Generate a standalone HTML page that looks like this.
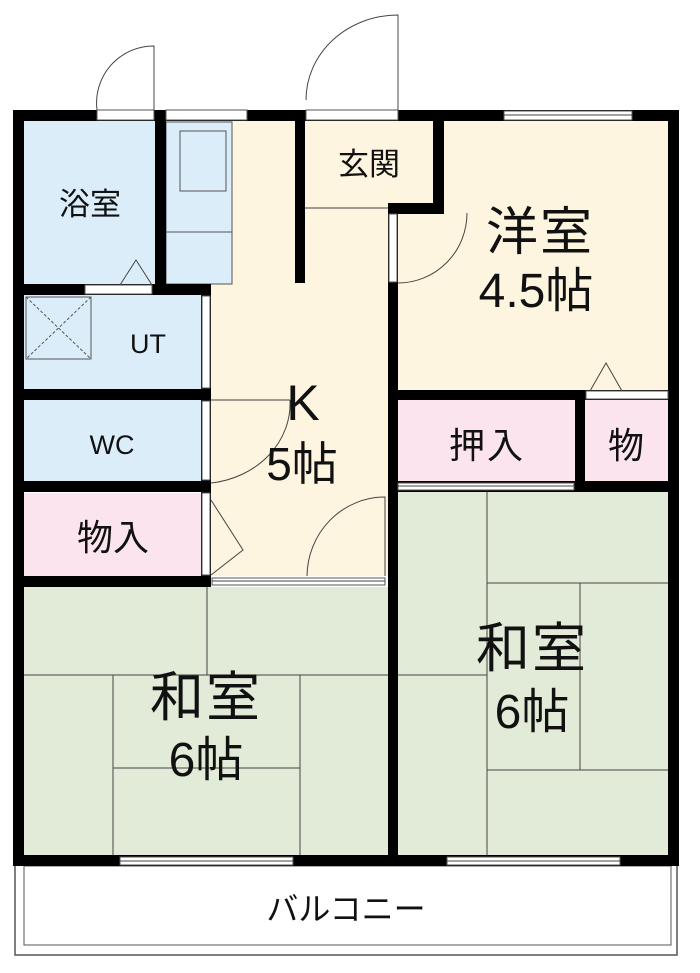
<!DOCTYPE html>
<html><head><meta charset="utf-8"><style>
html,body{margin:0;padding:0;background:#fff}
svg{display:block}
text{font-family:"Liberation Sans","Noto Sans CJK JP",sans-serif;fill:#111;text-anchor:middle}
</style></head><body>
<svg width="700" height="973" viewBox="0 0 700 973" xmlns="http://www.w3.org/2000/svg">
<!-- balcony -->
<rect x="15" y="860" width="662" height="95" fill="#fff" stroke="#555" stroke-width="1.5"/>
<rect x="24" y="866" width="647" height="79" fill="#fff" stroke="#555" stroke-width="1"/>
<!-- room fills -->
<rect x="211" y="121" width="177" height="455" fill="#fdf5e0"/>
<rect x="24" y="121" width="141" height="164" fill="#dcedfa"/>
<rect x="165" y="121" width="67" height="163" fill="#dcedfa"/>
<rect x="24" y="295" width="177" height="94" fill="#dcedfa"/>
<rect x="24" y="400" width="177" height="82" fill="#dcedfa"/>
<rect x="24" y="493" width="177" height="83" fill="#fbe4ee"/>
<rect x="305" y="121" width="130" height="87" fill="#fdf5e0"/>
<rect x="398" y="121" width="270" height="269" fill="#fdf5e0"/>
<rect x="398" y="400" width="177" height="81" fill="#fbe4ee"/>
<rect x="585" y="400" width="83" height="81" fill="#fbe4ee"/>
<rect x="24" y="587" width="364" height="268" fill="#e2ead8"/>
<rect x="398" y="492" width="270" height="363" fill="#e2ead8"/>
<!-- bath fixtures -->
<rect x="166" y="122" width="66" height="162" fill="none" stroke="#555" stroke-width="1"/>
<rect x="180" y="131" width="46" height="60" fill="none" stroke="#555" stroke-width="1"/>
<line x1="166" y1="232" x2="232" y2="232" stroke="#555"/>
<rect x="26" y="297" width="65" height="62" fill="none" stroke="#555"/>
<line x1="26" y1="297" x2="91" y2="359" stroke="#555" stroke-dasharray="3,2"/>
<line x1="91" y1="297" x2="26" y2="359" stroke="#555" stroke-dasharray="3,2"/>
<!-- tatami lines -->
<g stroke="#444" stroke-width="1" fill="none">
<line x1="207" y1="587" x2="207" y2="675"/>
<line x1="24" y1="675" x2="388" y2="675"/>
<line x1="113" y1="675" x2="113" y2="855"/>
<line x1="300" y1="675" x2="300" y2="855"/>
<line x1="113" y1="768" x2="300" y2="768"/>
<line x1="487" y1="492" x2="487" y2="855"/>
<line x1="487" y1="583" x2="668" y2="583"/>
<line x1="580" y1="583" x2="580" y2="770"/>
<line x1="487" y1="770" x2="668" y2="770"/>
<line x1="398" y1="675" x2="487" y2="675"/>
<line x1="305" y1="208" x2="388" y2="208"/>
<line x1="211" y1="400" x2="290" y2="400"/>
</g>
<!-- walls -->
<g fill="#000">
<rect x="13" y="110" width="11" height="756"/>
<rect x="668" y="110" width="11" height="756"/>
<rect x="13" y="855" width="666" height="11"/>
<rect x="13" y="110" width="666" height="11"/>
<rect x="155" y="110" width="11" height="185"/>
<rect x="24" y="284" width="186" height="11"/>
<rect x="201" y="284" width="10" height="303"/>
<rect x="24" y="389" width="187" height="11"/>
<rect x="24" y="481" width="187" height="11"/>
<rect x="24" y="576" width="187" height="11"/>
<rect x="295" y="110" width="10" height="173"/>
<rect x="433" y="110" width="11" height="104"/>
<rect x="388" y="203" width="56" height="11"/>
<rect x="388" y="203" width="10" height="663"/>
<rect x="388" y="390" width="290" height="10"/>
<rect x="575" y="390" width="10" height="102"/>
<rect x="388" y="481" width="290" height="11"/>
</g>
<!-- openings (white) -->
<g fill="#fff" stroke="#555" stroke-width="1">
<rect x="97" y="110" width="57" height="10"/>
<rect x="166" y="110" width="81" height="10"/>
<rect x="306" y="110" width="92" height="10"/>
<rect x="504" y="111" width="128" height="9"/>
<rect x="85" y="285" width="67" height="9"/>
<rect x="202" y="296" width="8" height="92"/>
<rect x="202" y="401" width="8" height="79"/>
<rect x="202" y="493" width="8" height="82"/>
<rect x="389" y="214" width="8" height="68"/>
<rect x="586" y="391" width="82" height="8"/>
<rect x="398" y="483" width="176" height="7"/>
<rect x="212" y="578" width="173" height="7"/>
<rect x="120" y="857" width="173" height="8"/>
<rect x="447" y="857" width="173" height="8"/>
</g>
<g stroke="#444" stroke-width="1" fill="none">
<line x1="212" y1="581" x2="385" y2="581"/>
<line x1="398" y1="486" x2="574" y2="486"/>
<line x1="120" y1="861" x2="293" y2="861"/>
<line x1="447" y1="861" x2="620" y2="861"/>
<line x1="504" y1="115" x2="632" y2="115"/>
<path d="M97 110 A57 57 0 0 1 154 46 L154 110"/>
<path d="M306 100 A92 85 0 0 1 398 15 L398 110"/>
<path d="M398 283 A69 70 0 0 0 467 213"/>
<path d="M307 576 A78 80 0 0 1 385 497 L385 576"/>
<path d="M211 483 A90 80 0 0 0 290 400"/>
<path d="M120 285 L136 260 L152 285"/>
<path d="M590 391 L606 363 L622 391"/>
<path d="M211 500 L243 550 L211 575"/>
</g>
<!-- labels -->
<text x="90" y="215" font-size="31">浴室</text>
<text x="369" y="175" font-size="31">玄関</text>
<text x="148" y="353" font-size="27">UT</text>
<text x="112" y="454" font-size="27">WC</text>
<text x="113" y="550" font-size="36">物入</text>
<text x="303" y="420" font-size="50">K</text>
<text x="302" y="480" font-size="46">5帖</text>
<text x="540" y="250" font-size="52" letter-spacing="2">洋室</text>
<text x="536" y="307" font-size="48">4.5帖</text>
<text x="487" y="458" font-size="36" letter-spacing="2">押入</text>
<text x="626" y="458" font-size="36">物</text>
<text x="206" y="716" font-size="54" letter-spacing="2">和室</text>
<text x="206" y="776" font-size="48">6帖</text>
<text x="532" y="667" font-size="54" letter-spacing="2">和室</text>
<text x="532" y="728" font-size="48">6帖</text>
<text x="346" y="920" font-size="32">バルコニー</text>
</svg>
</body></html>
